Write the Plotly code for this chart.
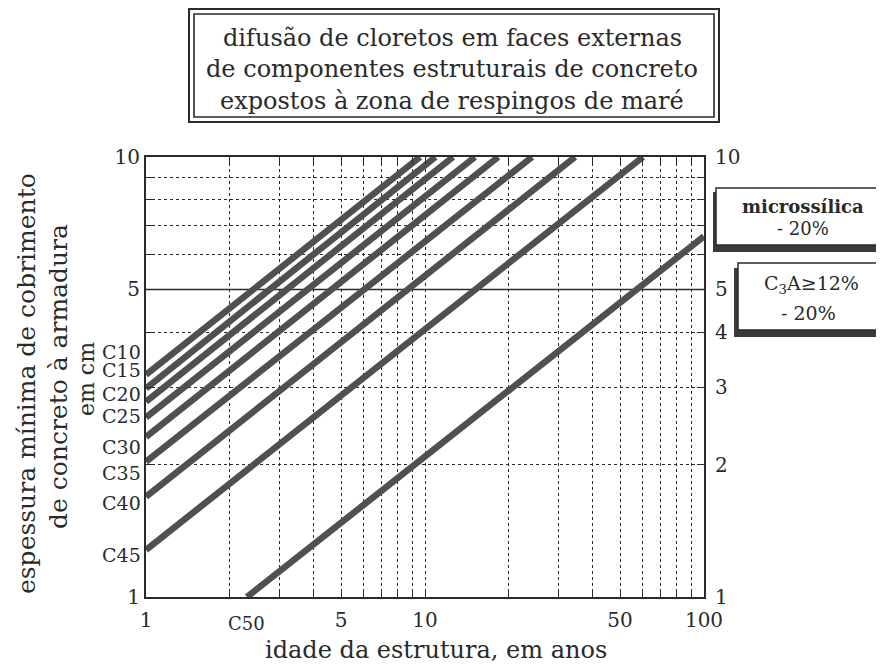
import plotly.graph_objects as go
import math

# ---- data ----
grades = ["C10", "C15", "C20", "C25", "C30", "C35", "C40", "C45", "C50"]
start_age = [1, 1, 1, 1, 1, 1, 1, 1, 2.3]
start_cover = [3.20, 2.98, 2.78, 2.56, 2.31, 2.03, 1.69, 1.28, 1.0]
end_age = [9.6, 10.9, 12.6, 15.1, 18.3, 24.2, 34.5, 60.4, 100]
end_cover = [10, 10, 10, 10, 10, 10, 10, 10, 6.6]

x_ticks = [1, 2, 3, 4, 5, 6, 7, 8, 9, 10, 20, 30, 40, 50, 60, 70, 80, 90, 100]
x_ticktext = ["1", "", "", "", "5", "", "", "", "", "10", "", "", "", "50", "", "", "", "", "100"]
y_ticks = [1, 2, 3, 4, 5, 6, 7, 8, 9, 10]
y_left_text = ["1", "", "", "", "5", "", "", "", "", "10"]
y_right_text = ["1", "2", "3", "4", "5", "", "", "", "", "10"]

title_lines = ["difusão de cloretos em faces externas",
               "de componentes estruturais de concreto",
               "expostos à zona de respingos de maré"]

# ---- layout constants (reference pixel frame) ----
# the page body adds an 8px offset, so the figure is made 8px smaller
OFF = 8
W, H = 884 - OFF, 666 - OFF
PL, PR, PT, PB = 146, 704, 157, 597          # plot area in reference pixels
L, T = PL - OFF, PT - OFF
R, B = (W + OFF) - PR, (H + OFF) - PB
PW, PH = PR - PL, PB - PT
FONT = "DejaVu Serif"
INK = "#2a2a2a"
LINE = "#505050"
label_px_y = [352, 370, 394, 416, 447, 473, 503, 555]   # grade label positions


def px(x):
    return (x - PL) / PW


def py(y):
    return (PB - y) / PH


fig = go.Figure()

# solid reference line at 5 cm
fig.add_trace(go.Scatter(x=[1, 100], y=[5, 5], mode="lines",
                         line=dict(color=INK, width=1.6), hoverinfo="skip",
                         showlegend=False))

for g, x0, y0, x1, y1 in zip(grades, start_age, start_cover, end_age, end_cover):
    fig.add_trace(go.Scatter(x=[x0, x1], y=[y0, y1], mode="lines", name=g,
                             line=dict(color=LINE, width=6.5), showlegend=False))

# invisible trace to anchor the right axis
fig.add_trace(go.Scatter(x=[1, 100], y=[1, 10], yaxis="y2", mode="lines",
                         line=dict(width=0), opacity=0, hoverinfo="skip",
                         showlegend=False))

axis_font = dict(family=FONT, size=20, color=INK)
fig.update_layout(
    width=W, height=H,
    margin=dict(l=L, r=R, t=T, b=B, pad=0),
    paper_bgcolor="white", plot_bgcolor="white",
    xaxis=dict(type="log", range=[0, 2], tickvals=x_ticks, ticktext=x_ticktext,
               showgrid=True, gridcolor=INK, griddash="dot", gridwidth=1.2,
               ticks="inside", ticklen=7, tickcolor=INK, tickwidth=1.3,
               showline=True, linecolor=INK, linewidth=2, mirror="ticks",
               tickfont=axis_font, zeroline=False, ticklabelstandoff=4),
    yaxis=dict(type="log", range=[0, 1], tickvals=y_ticks, ticktext=y_left_text,
               showgrid=True, gridcolor=INK, griddash="dot", gridwidth=1.2,
               ticks="inside", ticklen=7, tickcolor=INK, tickwidth=1.3,
               showline=True, linecolor=INK, linewidth=2, mirror="ticks",
               tickfont=axis_font, zeroline=False),
    yaxis2=dict(type="log", range=[0, 1], overlaying="y", side="right",
                tickvals=y_ticks, ticktext=y_right_text, showgrid=False,
                showline=False, ticks="", tickfont=axis_font, zeroline=False,
                ticklabelstandoff=10),
)

ann = []


def note(x, y, text, size, angle=0, bold=False):
    ann.append(dict(x=px(x), y=py(y), xref="paper", yref="paper",
                    xanchor="center", yanchor="middle", showarrow=False,
                    textangle=angle, text=f"<b>{text}</b>" if bold else text,
                    font=dict(family=FONT, size=size, color=INK)))


# grade labels on the left
for g, yy in zip(grades[:-1], label_px_y):
    ann.append(dict(x=0, xref="paper", xanchor="right", xshift=-3,
                    y=py(yy), yref="paper", yanchor="middle",
                    text=g, showarrow=False,
                    font=dict(family=FONT, size=19, color=INK)))
# C50 label under the x-axis
ann.append(dict(x=math.log10(start_age[-1]), xref="x", y=py(623), yref="paper",
                xanchor="center", yanchor="middle", text=grades[-1], showarrow=False,
                font=dict(family=FONT, size=18, color=INK)))
# axis titles
note(436, 650, "idade da estrutura, em anos", 24)
note(26, 384, "espessura mínima de cobrimento", 25, angle=-90)
note(58, 377, "de concreto à armadura", 25, angle=-90)
note(86, 379, "em cm", 22, angle=-90)
# title block
for i, line in enumerate(title_lines):
    note(452, 38 + 31.5 * i, line, 24)
# right boxes text
note(803, 206, "microssílica", 18, bold=True)
note(803, 228, "- 20%", 18)
note(811, 284, "C<sub>3</sub>A≥12%", 19)
note(808, 313, "- 20%", 19)
fig.update_layout(annotations=ann)

shapes = []


def rect(x0, y0, x1, y1, lw, fill="rgba(0,0,0,0)", color=INK):
    return dict(type="rect", xref="paper", yref="paper",
                x0=px(x0), x1=px(x1), y0=py(y1), y1=py(y0),
                line=dict(color=color, width=lw), fillcolor=fill, layer="below")


# title double frame
shapes.append(rect(189, 9, 719, 122, 2))
shapes.append(rect(194, 14, 714, 117, 1.6))
# microssilica box with shadow
shapes.append(rect(713, 192, 890, 252, 0, fill="#3a3a3a"))
shapes.append(rect(716, 188, 892, 245, 1.5, fill="white"))
# C3A box with shadow
shapes.append(rect(734, 268, 881, 337, 0, fill="#3a3a3a"))
shapes.append(rect(738, 263, 880, 330, 1.5, fill="white"))
fig.update_layout(shapes=shapes)

fig.write_html("out.html")
